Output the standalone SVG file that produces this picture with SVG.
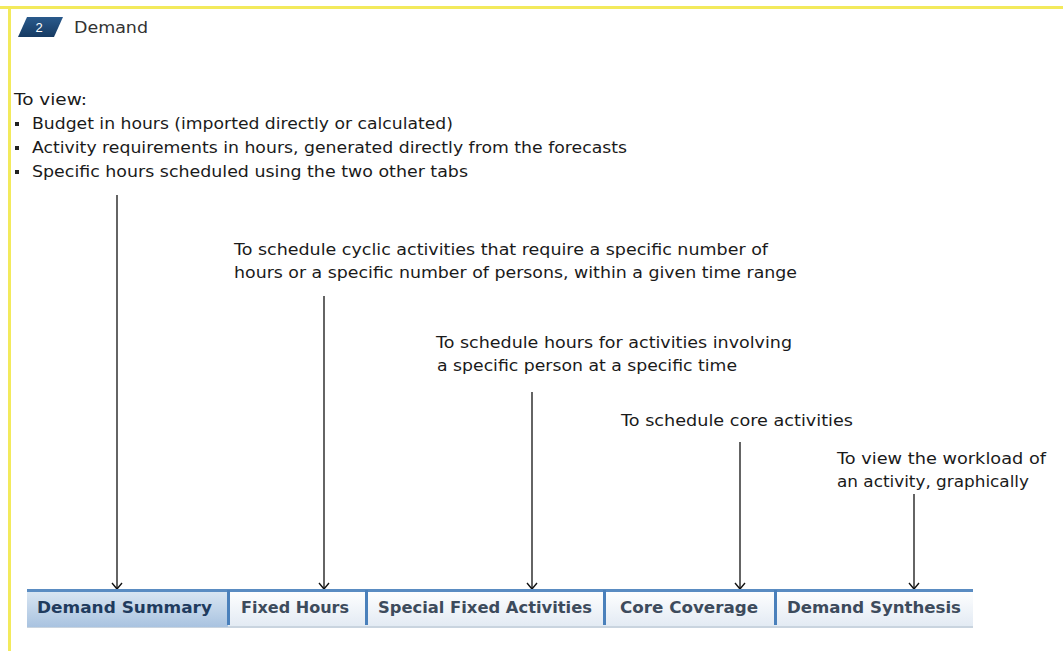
<svg xmlns="http://www.w3.org/2000/svg" width="1063" height="651" viewBox="0 0 1063 651">
<defs>
<style>
.t{font-family:"DejaVu Sans",Verdana,sans-serif;font-size:16.5px;fill:#1a1a1a}
.tab{font-family:"DejaVu Sans",Verdana,sans-serif;font-weight:bold;font-size:16px;fill:#3d4b5c}
.sel{fill:#1f3b5e}
.ln{stroke:#111;stroke-width:1.3;fill:none}
</style>
<linearGradient id="gSel" x1="0" y1="0" x2="0" y2="1"><stop offset="0" stop-color="#dbe7f3"/><stop offset="1" stop-color="#a9c3e0"/></linearGradient>
<linearGradient id="gTab" x1="0" y1="0" x2="0" y2="1"><stop offset="0" stop-color="#ffffff"/><stop offset="1" stop-color="#e2eaf3"/></linearGradient>
<linearGradient id="gBadge" x1="0" y1="0" x2="0" y2="1"><stop offset="0" stop-color="#2a5a8c"/><stop offset="1" stop-color="#163a62"/></linearGradient>
<marker id="ah" viewBox="0 0 12 12" refX="11" refY="6" markerWidth="12" markerHeight="12" markerUnits="userSpaceOnUse" orient="auto">
<path d="M5,1 L11,6 L5,11" fill="none" stroke="#111" stroke-width="1.4"/>
</marker>
</defs>
<rect x="0" y="0" width="1063" height="651" fill="#ffffff"/>
<rect x="0" y="6" width="1063" height="3" fill="#f3ea5c"/>
<rect x="8" y="6" width="3" height="645" fill="#f3ea5c"/>

<g id="header">
<polygon points="27,17 63,17 54,37 18,37" fill="url(#gBadge)"/>
<text x="39" y="32" font-family="Liberation Sans,Arial,sans-serif" font-size="13" fill="#fff" text-anchor="middle">2</text>
<text x="74" y="33" class="t" style="fill:#333;font-size:16px" textLength="74" lengthAdjust="spacingAndGlyphs">Demand</text>
</g>

<g id="intro">
<text class="t" x="14" y="105" textLength="73" lengthAdjust="spacingAndGlyphs">To view:</text>
<rect x="15" y="122" width="4" height="4" fill="#222"/>
<text class="t" x="32" y="129" textLength="421" lengthAdjust="spacingAndGlyphs">Budget in hours (imported directly or calculated)</text>
<rect x="15" y="146" width="4" height="4" fill="#222"/>
<text class="t" x="32" y="153" textLength="595" lengthAdjust="spacingAndGlyphs">Activity requirements in hours, generated directly from the forecasts</text>
<rect x="15" y="170" width="4" height="4" fill="#222"/>
<text class="t" x="32" y="177" textLength="436" lengthAdjust="spacingAndGlyphs">Specific hours scheduled using the two other tabs</text>
</g>

<g id="note-fixed">
<text class="t" x="234" y="255" textLength="534" lengthAdjust="spacingAndGlyphs">To schedule cyclic activities that require a specific number of</text>
<text class="t" x="234" y="278" textLength="563" lengthAdjust="spacingAndGlyphs">hours or a specific number of persons, within a given time range</text>
</g>
<g id="note-special">
<text class="t" x="436" y="348" textLength="356" lengthAdjust="spacingAndGlyphs">To schedule hours for activities involving</text>
<text class="t" x="437" y="371" textLength="300" lengthAdjust="spacingAndGlyphs">a specific person at a specific time</text>
</g>
<g id="note-core">
<text class="t" x="621" y="426" textLength="232" lengthAdjust="spacingAndGlyphs">To schedule core activities</text>
</g>
<g id="note-synth">
<text class="t" x="837" y="464" textLength="209" lengthAdjust="spacingAndGlyphs">To view the workload of</text>
<text class="t" x="837" y="487" textLength="192" lengthAdjust="spacingAndGlyphs">an activity, graphically</text>
</g>

<g id="connectors">
<line class="ln" x1="117" y1="195" x2="117" y2="589" marker-end="url(#ah)"/>
<line class="ln" x1="324" y1="296" x2="324" y2="589" marker-end="url(#ah)"/>
<line class="ln" x1="532" y1="392" x2="532" y2="589" marker-end="url(#ah)"/>
<line class="ln" x1="740" y1="442" x2="740" y2="589" marker-end="url(#ah)"/>
<line class="ln" x1="914" y1="494" x2="914" y2="589" marker-end="url(#ah)"/>
</g>

<g id="tabbar">
<rect x="27" y="590" width="946" height="37" fill="url(#gTab)"/>
<rect x="27" y="626" width="946" height="2" fill="#c9d4df"/>
<g id="tab-demand-summary">
<rect x="27" y="590" width="201" height="37" fill="url(#gSel)"/>
<text class="tab sel" x="37" y="613" textLength="175" lengthAdjust="spacingAndGlyphs">Demand Summary</text>
</g>
<g id="tab-fixed-hours"><text class="tab" x="241" y="613" textLength="108" lengthAdjust="spacingAndGlyphs">Fixed Hours</text></g>
<g id="tab-special"><text class="tab" x="378" y="613" textLength="214" lengthAdjust="spacingAndGlyphs">Special Fixed Activities</text></g>
<g id="tab-core"><text class="tab" x="620" y="613" textLength="138" lengthAdjust="spacingAndGlyphs">Core Coverage</text></g>
<g id="tab-synthesis"><text class="tab" x="787" y="613" textLength="174" lengthAdjust="spacingAndGlyphs">Demand Synthesis</text></g>
<rect x="27" y="589" width="946" height="3" fill="#5a8cc2"/>
<rect x="227" y="590" width="3" height="35" fill="#4a80bb"/>
<rect x="365" y="590" width="3" height="35" fill="#4a80bb"/>
<rect x="603" y="590" width="3" height="35" fill="#4a80bb"/>
<rect x="774" y="590" width="3" height="35" fill="#4a80bb"/>
</g>
</svg>
